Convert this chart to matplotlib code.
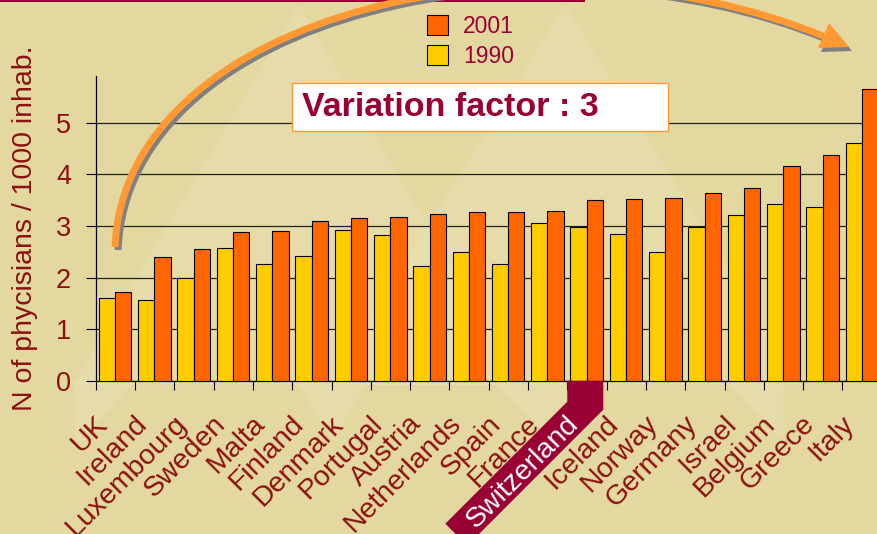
import numpy as np
import matplotlib.pyplot as plt
from matplotlib.patches import Rectangle, Polygon, PathPatch
from matplotlib.path import Path
from matplotlib.transforms import ScaledTranslation, IdentityTransform

# Physicians per 1000 inhabitants
countries = ['UK', 'Ireland', 'Luxembourg', 'Sweden', 'Malta', 'Finland', 'Denmark',
             'Portugal', 'Austria', 'Netherlands', 'Spain', 'France', 'Switzerland',
             'Iceland', 'Norway', 'Germany', 'Israel', 'Belgium', 'Greece', 'Italy']
v1990 = [1.60, 1.56, 2.00, 2.58, 2.26, 2.42, 2.93, 2.83, 2.23, 2.50,
         2.26, 3.05, 2.98, 2.85, 2.49, 2.98, 3.21, 3.43, 3.37, 4.61]
v2001 = [1.71, 2.39, 2.55, 2.88, 2.91, 3.09, 3.15, 3.17, 3.23, 3.27,
         3.27, 3.29, 3.50, 3.52, 3.55, 3.64, 3.73, 4.17, 4.37, 5.65]
yticks = [0, 1, 2, 3, 4, 5]
highlight = 'Switzerland'

BG = '#e3d8a0'
LIGHT = '#ebe3b6'
YELLOW = '#ffcc00'
ORANGE = '#ff6600'
RED = '#8c1010'
CRIMSON = '#990033'
ARROW = '#ff9933'

plt.rcParams['font.family'] = ['Liberation Sans', 'DejaVu Sans']

W, H = 877, 534
fig = plt.figure(figsize=(W / 100, H / 100), dpi=100, facecolor=BG)


def fp(x, y):
    # image pixel (y down) -> figure fraction
    return (x / W, 1 - y / H)


# faint background motif
for tri in [[(299, 5), (73, 385), (520, 385)],
            [(565, 5), (330, 385), (800, 385)],
            [(75, 381), (135, 381), (75, 445)],
            [(296, 381), (369, 381), (332, 440)],
            [(490, 381), (567, 381), (567, 450)],
            [(727, 381), (783, 381), (783, 440)]]:
    fig.add_artist(Polygon([fp(*p) for p in tri], closed=True, fc=LIGHT, ec='none',
                           alpha=0.45, transform=fig.transFigure, zorder=-2))

ax = fig.add_axes([95.7 / W, 1 - 380.7 / H, 786 / W, (380.7 - 76.3) / H])
ax.set_facecolor('none')

x = np.arange(len(countries))
b1990 = ax.bar(x + 0.2875, v1990, width=0.415, color=YELLOW, edgecolor='black',
               linewidth=0.8, label='1990', zorder=3)
b2001 = ax.bar(x + 0.7025, v2001, width=0.415, color=ORANGE, edgecolor='black',
               linewidth=0.8, label='2001', zorder=3)

ax.set_xlim(0, len(countries))
ax.set_ylim(0, 5.9)
for s in ['top', 'right']:
    ax.spines[s].set_visible(False)
for s in ['left', 'bottom']:
    ax.spines[s].set_linewidth(0.9)
ax.yaxis.grid(True, color='#222222', linewidth=0.9)
ax.set_axisbelow(True)

ax.set_yticks(yticks)
ax.tick_params(axis='y', direction='out', length=7.2, width=0.8, pad=10.5,
               labelsize=19.5, labelcolor=RED)
ax.set_xticks(np.arange(len(countries) + 1))
ax.set_xticklabels([])
ax.tick_params(axis='x', direction='out', length=6.5, width=0.8)

ax.set_ylabel('N of phycisians / 1000 inhab.', fontsize=20.5, color=RED)
ax.yaxis.set_label_coords(-0.073, 0.5)

# highlight band under Switzerland
hi = countries.index(highlight)
x0, y0 = ax.transData.transform((hi, 0))
band = [(0, 0), (36, 0), (36, 29), (-100, 165), (-122, 143), (0, 21)]
ax.add_patch(Polygon([(x0 + dx, y0 - dy) for dx, dy in band], closed=True, fc=CRIMSON,
                     ec='none', transform=IdentityTransform(), clip_on=False, zorder=4))

lab_tr = ax.transData + ScaledTranslation(-0.21, -0.30, fig.dpi_scale_trans)
for i, name in enumerate(countries):
    ax.text(i + 0.5, 0, name, transform=lab_tr, rotation=45, rotation_mode='anchor',
            ha='right', va='top', fontsize=20.5,
            color='white' if name == highlight else RED, zorder=5, clip_on=False)

leg = ax.legend(handles=[b2001, b1990], loc='upper left',
                bbox_to_anchor=fp(427, 15), bbox_transform=fig.transFigure,
                frameon=False, fontsize=16.5, labelcolor=CRIMSON,
                handlelength=0.92, handleheight=0.92, handletextpad=0.65,
                labelspacing=0.3, borderpad=0, borderaxespad=0)

# "Variation factor" box
bx0, by0 = fp(292, 131)
fig.add_artist(Rectangle((bx0, by0), 376 / W, 48 / H, fc='white', ec=ARROW, lw=1,
                         transform=fig.transFigure, zorder=2))
fig.text(*fp(302, 108), 'Variation factor : 3', fontsize=24.5, fontweight='bold',
         color=CRIMSON, ha='left', va='center', zorder=3)

# top rule
fig.add_artist(Rectangle(fp(0, 2), 585 / W, 2 / H, fc=CRIMSON, ec='none',
                         transform=fig.transFigure, zorder=2))

# curved arrow with grey shadow
ctrl = [(115, 247), (125, 10), (540, -80), (823, 36)]
head = [(829, 23), (818, 48), (849, 47)]
for off, col in [((3, 3), '#808080'), ((0, 0), ARROW)]:
    pts = [fp(px + off[0], py + off[1]) for px, py in ctrl]
    path = Path(pts, [Path.MOVETO, Path.CURVE4, Path.CURVE4, Path.CURVE4])
    fig.add_artist(PathPatch(path, fc='none', ec=col, lw=5.0, capstyle='butt',
                             transform=fig.transFigure, zorder=4))
    fig.add_artist(Polygon([fp(px + off[0], py + off[1] + (1 if off[0] else 0)) for px, py in head],
                           closed=True, fc=col, ec='none', transform=fig.transFigure, zorder=4))

fig.savefig('out.png', dpi=100, facecolor=BG)
